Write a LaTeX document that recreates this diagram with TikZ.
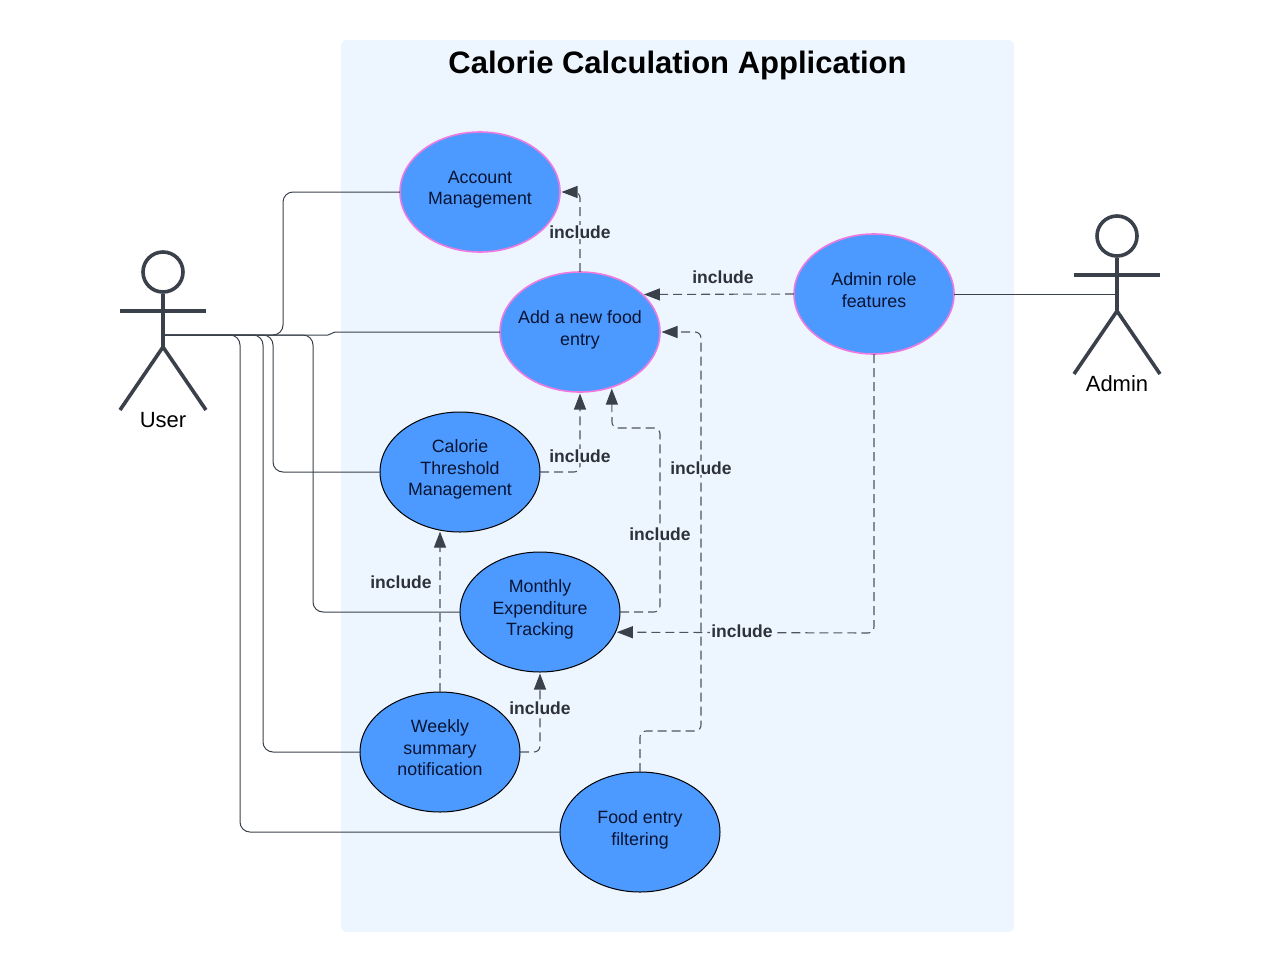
\documentclass[tikz,border=0pt]{standalone}
\usepackage{fontspec}
\setmainfont{Liberation Sans}
\usetikzlibrary{shapes.geometric,arrows.meta}
\definecolor{appback}{RGB}{237,245,254}
\definecolor{caseblue}{RGB}{76,154,255}
\definecolor{casepink}{RGB}{238,122,224}
\definecolor{casetext}{RGB}{8,20,50}
\definecolor{linegrey}{RGB}{58,65,75}
\definecolor{labelgrey}{RGB}{45,50,58}
\tikzset{
    usecase/.style={ellipse, draw=black, fill=caseblue, line width=1pt, minimum width=160pt, minimum height=120pt, inner sep=-20pt, outer sep=0pt, align=center, text=casetext, text depth=8pt, font=\fontsize{17.8}{21.5}\selectfont},
    pinkcase/.style={usecase, draw=casepink, line width=1.6pt},
    actorline/.style={draw=linegrey, line width=3.6pt, line join=round},
    actorname/.style={font=\fontsize{22}{24}\selectfont, text=black, inner sep=0pt},
    assoc/.style={draw=linegrey, line width=1pt, rounded corners=10pt},
    includeline/.style={draw=linegrey!90, line width=1.1pt, dash pattern=on 9pt off 5pt, rounded corners=6pt, -{Triangle[length=16pt,width=12pt,color=linegrey]}, shorten >=1.5pt},
    includetext/.style={font=\fontsize{17.5}{20}\bfseries\selectfont, text=labelgrey, fill=appback, inner sep=1pt}
}
\begin{document}
\begin{tikzpicture}[x=1pt,y=-1pt]
    \useasboundingbox (0,0) rectangle (1281,972);

    % Application frame and its title
    \node[fill=appback, rounded corners=6pt, minimum width=673pt, minimum height=892pt, inner sep=0pt, outer sep=0pt] (app) at (677.5,486) {};
    \node[font=\fontsize{31}{36}\bfseries\selectfont, text=black, inner sep=0pt] (title) at (677.5,65) {Calorie Calculation Application};

    % Use cases
    \node[pinkcase] (account) at (480,192) {Account\\Management};
    \node[pinkcase] (addfood) at (580,332) {Add a new food\\entry};
    \node[pinkcase] (adminrole) at (874,294) {Admin role\\features};
    \node[usecase] (threshold) at (460,472) {Calorie\\Threshold\\Management};
    \node[usecase] (monthly) at (540,612) {Monthly\\Expenditure\\Tracking};
    \node[usecase] (weekly) at (440,752) {Weekly\\summary\\notification};
    \node[usecase] (filtering) at (640,832) {Food entry\\filtering};

    % User actor
    \node[circle, draw=linegrey, line width=3.6pt, minimum size=40pt, inner sep=0pt] (userhead) at (163,272) {};
    \coordinate (userhip) at (163,335);
    \draw[actorline] (userhead.south) -- (163,347) -- (120,410);
    \draw[actorline] (163,347) -- (206,410);
    \draw[actorline] (120,311) -- (206,311);
    \node[actorname] (username) at (163,420) {User};

    % Admin actor
    \node[circle, draw=linegrey, line width=3.6pt, minimum size=40pt, inner sep=0pt] (adminhead) at (1117,236) {};
    \coordinate (adminhip) at (1117,294);
    \draw[actorline] (adminhead.south) -- (1117,311) -- (1074,374);
    \draw[actorline] (1117,311) -- (1160,374);
    \draw[actorline] (1074,275) -- (1160,275);
    \node[actorname] (adminname) at (1117,384) {Admin};

    % Associations
    \draw[assoc] (userhip) -- (283,335) -- (283,192) -- (account.west);
    \draw[assoc, rounded corners=2pt] (userhip) -- (330,335) -- (333,332) -- (addfood.west);
    \draw[assoc] (userhip) -- (273,335) -- (273,472) -- (threshold.west);
    \draw[assoc] (userhip) -- (313,335) -- (313,612) -- (monthly.west);
    \draw[assoc] (userhip) -- (263,335) -- (263,752) -- (weekly.west);
    \draw[assoc] (userhip) -- (240,335) -- (240,832) -- (filtering.west);
    \draw[assoc] (adminrole.east) -- (adminhip);

    % Include relations
    \draw[includeline] (addfood.north) -- (580,192) -- (account.east);
    \draw[includeline] (adminrole.west) -- (addfood.31.5);
    \draw[includeline] (threshold.east) -- (580,472) -- (addfood.south);
    \draw[includeline] (monthly.east) -- (660,612) -- (660,428) -- (612,428) -- (addfood.-60);
    \draw[includeline] (filtering.north) -- (640,731) -- (701,731) -- (701,332) -- (addfood.east);
    \draw[includeline] (adminrole.south) -- (874,633) -- (monthly.-15.6);
    \draw[includeline] (weekly.north) -- (threshold.-109);
    \draw[includeline] (weekly.east) -- (540,752) -- (monthly.south);

    % Include labels
    \node[includetext] (inclaccount) at (580,232) {include};
    \node[includetext] (incladmin) at (723,277) {include};
    \node[includetext] (inclthreshold) at (580,456) {include};
    \node[includetext] (inclfilter) at (701,468) {include};
    \node[includetext] (inclmonthly) at (660,534) {include};
    \node[includetext] (inclweekly) at (401,582) {include};
    \node[includetext] (incltrack) at (742,631) {include};
    \node[includetext] (inclsummary) at (540,708) {include};
\end{tikzpicture}
\end{document}
